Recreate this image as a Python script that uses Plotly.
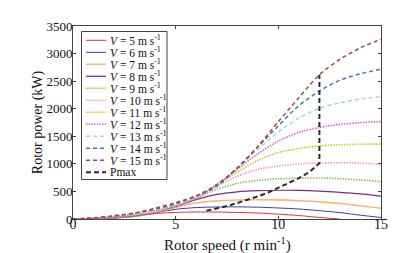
import plotly.graph_objects as go

# Rotor speed grid (r/min)
speed = [0, 1, 2, 3, 4, 5, 6, 7, 8, 9, 10, 11, 12, 13, 14, 15]

# Rotor power (kW) for each wind speed
p_v5 = [0, 4, 16, 49, 97, 120, 127, 127, 119, 108, 88, 63, 28, 0]
p_v6 = [0, 5, 19, 46, 113, 176, 207, 218, 220, 214, 200, 181, 151, 116, 69, 28]
p_v7 = [0, 7, 22, 52, 116, 211, 290, 329, 345, 350, 346, 331, 311, 281, 240, 195]
p_v8 = [0, 8, 26, 57, 110, 225, 350, 445, 492, 514, 521, 520, 507, 484, 455, 416]
p_v9 = [0, 9, 30, 64, 120, 228, 381, 535, 646, 700, 730, 741, 744, 732, 707, 680]
p_v10 = [0, 10, 33, 70, 125, 215, 390, 590, 775, 900, 960, 1000, 1015, 1020, 1015, 988]
p_v11 = [0, 12, 39, 80, 140, 232, 393, 615, 852, 1062, 1205, 1278, 1326, 1347, 1356, 1358]
p_v12 = [0, 14, 43, 86, 152, 242, 372, 622, 904, 1180, 1412, 1572, 1659, 1716, 1748, 1768]
p_v13 = [0, 15, 48, 97, 163, 257, 396, 620, 923, 1261, 1577, 1830, 2008, 2109, 2177, 2215]
p_v14 = [0, 18, 55, 104, 178, 277, 414, 590, 930, 1306, 1690, 2055, 2321, 2516, 2634, 2716]
p_v15 = [0, 20, 61, 111, 196, 297, 422, 624, 921, 1316, 1765, 2200, 2616, 2896, 3105, 3260]

# Maximum power locus
pmax_speed = [6.5, 7, 7.5, 8, 8.5, 9, 9.5, 10, 10.5, 11, 11.5, 12, 12]
pmax_power = [150, 190, 235, 290, 345, 410, 480, 565, 650, 740, 850, 1010, 2616]

wind = [5, 6, 7, 8, 9, 10, 11, 12, 13, 14, 15]
series = [p_v5, p_v6, p_v7, p_v8, p_v9, p_v10, p_v11, p_v12, p_v13, p_v14, p_v15]
colors = ["#e8332f", "#33449a", "#f6b977", "#7a2b80", "#8dc153", "#f59bc3",
          "#c9c72a", "#cc6cc4", "#9fd6f0", "#4273c4", "#b1452e"]
dashes = ["solid", "solid", "solid", "solid",
          "1.5px,1.2px", "1.5px,1.2px", "1.5px,1.2px", "1.5px,1.2px",
          "4px,3px", "4px,3px", "4px,3px"]
widths = [1, 1, 1.6, 1.2, 1.6, 1.6, 1.6, 1.6, 1.5, 1.5, 1.5]
pmax_color = "#2b2b2b"

FONT = "Liberation Serif"

fig = go.Figure()
for v, ys, c, d, w in zip(wind, series, colors, dashes, widths):
    fig.add_trace(go.Scatter(
        x=speed[:len(ys)], y=ys, mode="lines", name=f"V={v}",
        line=dict(color=c, dash=d, width=w, shape="spline", smoothing=0.8),
        showlegend=False))
fig.add_trace(go.Scatter(
    x=pmax_speed, y=pmax_power, mode="lines", name="Pmax",
    line=dict(color=pmax_color, dash="5px,3px", width=2, shape="linear"),
    showlegend=False))

# Plot area in pixels
L, R, T, B = 65, 373, 18, 211
W, H = 396, 253
pw, ph = R - L, B - T

def px(x):
    return (x - L) / pw

def py(y):
    return (B - y) / ph

shapes = []
annotations = []
# legend frame
shapes.append(dict(type="rect", xref="paper", yref="paper",
                   x0=px(73.5), x1=px(159), y0=py(171.5), y1=py(23.5),
                   line=dict(color="#444", width=1), fillcolor="white", layer="above"))
labels = [f"<i>V</i> = {v} m s<sup>-1</sup>" for v in wind] + ["Pmax"]
lcolors = colors + [pmax_color]
ldashes = dashes + ["5px,3px"]
lwidths = widths + [2]
for k, (lab, c, d, w) in enumerate(zip(labels, lcolors, ldashes, lwidths)):
    yy = 32.3 + 12.0 * k
    shapes.append(dict(type="line", xref="paper", yref="paper",
                       x0=px(78), x1=px(98), y0=py(yy), y1=py(yy),
                       line=dict(color=c, dash=d, width=w), layer="above"))
    annotations.append(dict(xref="paper", yref="paper", x=px(100), y=py(yy),
                            text=lab, showarrow=False, xanchor="left", yanchor="middle",
                            height=12, valign="middle",
                            font=dict(family=FONT, size=11.5, color="#111")))

# x-axis title
annotations.append(dict(xref="paper", yref="paper", x=0.5, y=py(236),
                        text="Rotor speed (r min<sup>-1</sup>)", showarrow=False,
                        xanchor="center", yanchor="middle",
                        font=dict(family=FONT, size=15, color="#111")))

fig.update_layout(
    width=W, height=H,
    margin=dict(l=L, r=W - R, t=T, b=H - B),
    paper_bgcolor="white", plot_bgcolor="white",
    font=dict(family=FONT, color="#111"),
    shapes=shapes, annotations=annotations,
    xaxis=dict(range=[0, 15], tickvals=[0, 5, 10, 15], ticks="inside", ticklen=3,
               showline=True, mirror="ticks", linecolor="#444", linewidth=1,
               tickcolor="#444", showgrid=False, zeroline=False,
               ticklabelstandoff=-8,
               tickfont=dict(family=FONT, size=14)),
    yaxis=dict(range=[0, 3500], tickvals=[0, 500, 1000, 1500, 2000, 2500, 3000, 3500],
               ticks="inside", ticklen=3,
               showline=True, mirror="ticks", linecolor="#444", linewidth=1,
               tickcolor="#444", showgrid=False, zeroline=False,
               ticklabelstandoff=-3,
               tickfont=dict(family=FONT, size=13),
               title=dict(text="Rotor power (kW)", font=dict(family=FONT, size=14),
                          standoff=0)),
)

fig.write_html("out.html")
